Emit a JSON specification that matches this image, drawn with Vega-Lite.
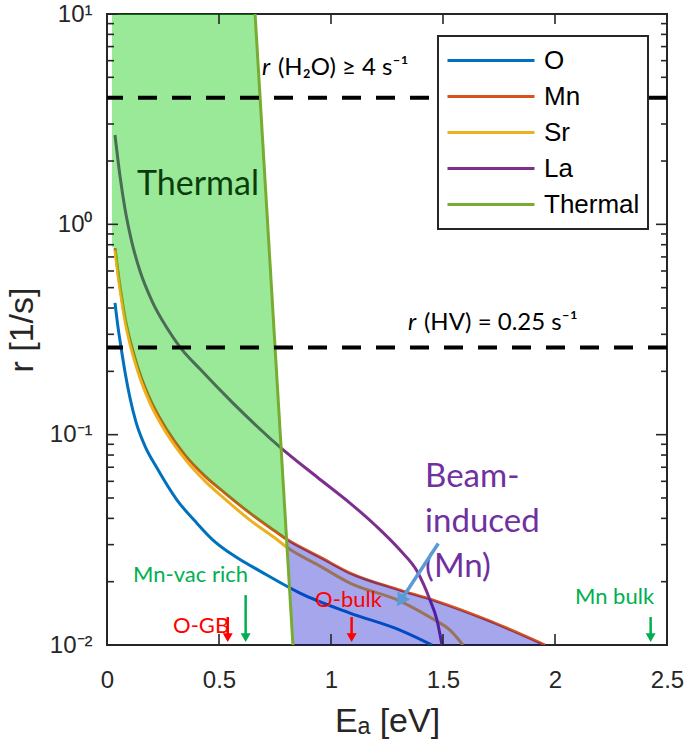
{
  "$schema": "https://vega.github.io/schema/vega-lite/v6.json",
  "width": 560,
  "height": 631,
  "autosize": {"type": "none"},
  "padding": {"left": 107, "top": 14, "right": 18, "bottom": 104},
  "background": "white",
  "config": {
    "view": {"stroke": "#262626", "strokeWidth": 2},
    "axis": {"grid": false, "domain": false, "ticks": false, "labelFont": "Liberation Sans", "titleFont": "Liberation Sans", "labelColor": "#262626", "titleColor": "#262626", "titleFontWeight": "normal", "labelOverlap": false, "labelFlush": false}
  },
  "datasets": {
    "curves": [
      {"series": "O", "E": 0.0357, "r": 0.4234}, {"series": "O", "E": 0.0491, "r": 0.3247}, {"series": "O", "E": 0.0625, "r": 0.2609}, {"series": "O", "E": 0.0804, "r": 0.1984}, {"series": "O", "E": 0.1027, "r": 0.1493}, {"series": "O", "E": 0.1295, "r": 0.1148}, {"series": "O", "E": 0.1696, "r": 0.08826}, {"series": "O", "E": 0.2232, "r": 0.06937}, {"series": "O", "E": 0.3125, "r": 0.04887}, {"series": "O", "E": 0.3929, "r": 0.03882}, {"series": "O", "E": 0.4732, "r": 0.03154}, {"series": "O", "E": 0.5759, "r": 0.02618}, {"series": "O", "E": 0.683, "r": 0.02246}, {"series": "O", "E": 0.8616, "r": 0.01765}, {"series": "O", "E": 1.0848, "r": 0.01418}, {"series": "O", "E": 1.308, "r": 0.01177}, {"series": "O", "E": 1.4509, "r": 0.01},
      {"series": "Mn", "E": 0.0357, "r": 0.771}, {"series": "Mn", "E": 0.0491, "r": 0.593}, {"series": "Mn", "E": 0.0625, "r": 0.4713}, {"series": "Mn", "E": 0.0804, "r": 0.3584}, {"series": "Mn", "E": 0.1027, "r": 0.2818}, {"series": "Mn", "E": 0.125, "r": 0.2313}, {"series": "Mn", "E": 0.1473, "r": 0.1942}, {"series": "Mn", "E": 0.192, "r": 0.1476}, {"series": "Mn", "E": 0.2679, "r": 0.1051}, {"series": "Mn", "E": 0.3482, "r": 0.07998}, {"series": "Mn", "E": 0.4375, "r": 0.06355}, {"series": "Mn", "E": 0.5268, "r": 0.05276}, {"series": "Mn", "E": 0.6384, "r": 0.04238}, {"series": "Mn", "E": 0.75, "r": 0.0348}, {"series": "Mn", "E": 0.808, "r": 0.03153}, {"series": "Mn", "E": 0.9509, "r": 0.02618}, {"series": "Mn", "E": 1.0848, "r": 0.02197}, {"series": "Mn", "E": 1.308, "r": 0.01824}, {"series": "Mn", "E": 1.4554, "r": 0.01635}, {"series": "Mn", "E": 1.7098, "r": 0.01299}, {"series": "Mn", "E": 1.9554, "r": 0.01},
      {"series": "Sr", "E": 0.0357, "r": 0.7546}, {"series": "Sr", "E": 0.0491, "r": 0.5741}, {"series": "Sr", "E": 0.0625, "r": 0.456}, {"series": "Sr", "E": 0.0804, "r": 0.3469}, {"series": "Sr", "E": 0.1027, "r": 0.2697}, {"series": "Sr", "E": 0.125, "r": 0.2214}, {"series": "Sr", "E": 0.1473, "r": 0.1858}, {"series": "Sr", "E": 0.192, "r": 0.1413}, {"series": "Sr", "E": 0.2679, "r": 0.1007}, {"series": "Sr", "E": 0.3482, "r": 0.07656}, {"series": "Sr", "E": 0.4375, "r": 0.06017}, {"series": "Sr", "E": 0.5268, "r": 0.04941}, {"series": "Sr", "E": 0.6384, "r": 0.03926}, {"series": "Sr", "E": 0.75, "r": 0.03224}, {"series": "Sr", "E": 0.808, "r": 0.02889}, {"series": "Sr", "E": 0.9509, "r": 0.02372}, {"series": "Sr", "E": 1.0848, "r": 0.01969}, {"series": "Sr", "E": 1.308, "r": 0.01618}, {"series": "Sr", "E": 1.4554, "r": 0.01328}, {"series": "Sr", "E": 1.5313, "r": 0.01177}, {"series": "Sr", "E": 1.5893, "r": 0.01},
      {"series": "La", "E": 0.0357, "r": 2.658}, {"series": "La", "E": 0.058, "r": 1.697}, {"series": "La", "E": 0.0804, "r": 1.182}, {"series": "La", "E": 0.1098, "r": 0.8329}, {"series": "La", "E": 0.1473, "r": 0.5997}, {"series": "La", "E": 0.2009, "r": 0.4317}, {"series": "La", "E": 0.2679, "r": 0.3213}, {"series": "La", "E": 0.3259, "r": 0.2609}, {"series": "La", "E": 0.4152, "r": 0.205}, {"series": "La", "E": 0.5625, "r": 0.1413}, {"series": "La", "E": 0.7723, "r": 0.0873}, {"series": "La", "E": 0.9375, "r": 0.0629}, {"series": "La", "E": 1.0848, "r": 0.0473}, {"series": "La", "E": 1.1964, "r": 0.0372}, {"series": "La", "E": 1.308, "r": 0.02827}, {"series": "La", "E": 1.3839, "r": 0.02246}, {"series": "La", "E": 1.442, "r": 0.01635}, {"series": "La", "E": 1.4732, "r": 0.01313}, {"series": "La", "E": 1.4955, "r": 0.01},
      {"series": "Thermal", "E": 0.661, "r": 10}, {"series": "Thermal", "E": 0.83, "r": 0.01}
    ],
    "thermalRegion": [
      {"E": 0.022, "lo": 0.78, "hi": 10}, {"E": 0.0357, "lo": 0.771, "hi": 10}, {"E": 0.0491, "lo": 0.593, "hi": 10}, {"E": 0.0625, "lo": 0.4713, "hi": 10}, {"E": 0.0804, "lo": 0.3584, "hi": 10}, {"E": 0.1027, "lo": 0.2818, "hi": 10}, {"E": 0.125, "lo": 0.2313, "hi": 10}, {"E": 0.1473, "lo": 0.1942, "hi": 10}, {"E": 0.192, "lo": 0.1476, "hi": 10}, {"E": 0.2679, "lo": 0.1051, "hi": 10}, {"E": 0.3482, "lo": 0.07998, "hi": 10}, {"E": 0.4375, "lo": 0.06355, "hi": 10}, {"E": 0.5268, "lo": 0.05276, "hi": 10}, {"E": 0.6384, "lo": 0.04238, "hi": 10}, {"E": 0.661, "lo": 0.04074, "hi": 10}, {"E": 0.7, "lo": 0.03802, "hi": 2.03}, {"E": 0.75, "lo": 0.0348, "hi": 0.263}, {"E": 0.78, "lo": 0.03308, "hi": 0.0772}, {"E": 0.8017, "lo": 0.03186, "hi": 0.03186}
    ],
    "beamRegion": [
      {"E": 0.8017, "lo": 0.03186, "hi": 0.03186}, {"E": 0.808, "lo": 0.0246, "hi": 0.03153}, {"E": 0.815, "lo": 0.01847, "hi": 0.03124}, {"E": 0.83, "lo": 0.01, "hi": 0.03064}, {"E": 0.9509, "lo": 0.01, "hi": 0.02618}, {"E": 1.0848, "lo": 0.01, "hi": 0.02197}, {"E": 1.308, "lo": 0.01, "hi": 0.01824}, {"E": 1.4554, "lo": 0.01, "hi": 0.01635}, {"E": 1.7098, "lo": 0.01, "hi": 0.01299}, {"E": 1.9554, "lo": 0.01, "hi": 0.01}
    ],
    "yTicks": [
      {"r": 0.01, "kind": "major"}, {"r": 0.1, "kind": "major"}, {"r": 1, "kind": "major"}, {"r": 10, "kind": "major"},
      {"r": 0.02, "kind": "minor"}, {"r": 0.03, "kind": "minor"}, {"r": 0.04, "kind": "minor"}, {"r": 0.05, "kind": "minor"}, {"r": 0.06, "kind": "minor"}, {"r": 0.07, "kind": "minor"}, {"r": 0.08, "kind": "minor"}, {"r": 0.09, "kind": "minor"},
      {"r": 0.2, "kind": "minor"}, {"r": 0.3, "kind": "minor"}, {"r": 0.4, "kind": "minor"}, {"r": 0.5, "kind": "minor"}, {"r": 0.6, "kind": "minor"}, {"r": 0.7, "kind": "minor"}, {"r": 0.8, "kind": "minor"}, {"r": 0.9, "kind": "minor"},
      {"r": 2, "kind": "minor"}, {"r": 3, "kind": "minor"}, {"r": 4, "kind": "minor"}, {"r": 5, "kind": "minor"}, {"r": 6, "kind": "minor"}, {"r": 7, "kind": "minor"}, {"r": 8, "kind": "minor"}, {"r": 9, "kind": "minor"}
    ],
    "xTicks": [{"E": 0.5}, {"E": 1}, {"E": 1.5}, {"E": 2}],
    "limits": [
      {"limit": "H2O", "r": 4, "rest": "(H₂O) ≥ 4 s⁻¹", "E": 0.692, "Erest": 0.763, "ry": 5.13},
      {"limit": "HV", "r": 0.26, "rest": "(HV) = 0.25 s⁻¹", "E": 1.344, "Erest": 1.415, "ry": 0.314}
    ],
    "sites": [
      {"label": "O-GB", "site": "O", "E": 0.539, "top": 0.01358, "labelE": 0.295, "labelR": 0.0114},
      {"label": "Mn-vac rich", "site": "Mn", "E": 0.619, "top": 0.01727, "labelE": 0.116, "labelR": 0.0199},
      {"label": "O-bulk", "site": "O", "E": 1.092, "top": 0.01358, "labelE": 0.929, "labelR": 0.0151},
      {"label": "Mn bulk", "site": "Mn", "E": 2.427, "top": 0.01358, "labelE": 2.089, "labelR": 0.01563}
    ],
    "beamText": [
      {"line": "Beam-", "E": 1.42, "r": 0.0564},
      {"line": "induced", "E": 1.42, "r": 0.0344},
      {"line": "(Mn)", "E": 1.42, "r": 0.021}
    ],
    "beamArrow": [
      {"E": 1.479, "r": 0.0304, "E2": 1.31, "r2": 0.0162}
    ]
  },
  "layer": [
    {
      "data": {"name": "curves"},
      "transform": [{"filter": "datum.series != 'Thermal'"}],
      "mark": {"type": "line", "strokeWidth": 3, "interpolate": "monotone", "clip": true},
      "encoding": {
        "x": {"field": "E", "type": "quantitative", "scale": {"type": "linear", "domain": [0, 2.5], "nice": false, "zero": false},
              "axis": {"orient": "bottom", "values": [0, 0.5, 1, 1.5, 2, 2.5], "format": "~g", "labelFontSize": 24, "labelPadding": 23, "title": "Eₐ [eV]", "titleFontSize": 34, "titlePadding": 12}},
        "y": {"field": "r", "type": "quantitative", "scale": {"type": "log", "domain": [0.01, 10], "nice": false},
              "axis": {"orient": "left", "values": [0.01, 0.1, 1, 10], "labelFontSize": 24, "labelPadding": 15, "labelExpr": "datum.value >= 5 ? '10¹' : datum.value >= 0.5 ? '10⁰' : datum.value >= 0.05 ? '10⁻¹' : '10⁻²'", "title": "r [1/s]", "titleFontSize": 34, "titlePadding": 10}},
        "color": {"field": "series", "type": "nominal",
                  "scale": {"domain": ["O", "Mn", "Sr", "La", "Thermal"], "range": ["#0072BD", "#D95319", "#EDB120", "#7E2F8E", "#77AC30"]},
                  "legend": {"orient": "none", "legendX": 331, "legendY": 22, "direction": "vertical", "title": null, "symbolType": "stroke", "symbolSize": 7569, "symbolStrokeWidth": 3, "clipHeight": 33, "rowPadding": 3, "padding": 8, "symbolOffset": 0, "labelOffset": 8, "labelFontSize": 26, "labelFont": "Liberation Sans", "labelColor": "#000000", "fillColor": "#ffffff", "strokeColor": "#262626",
                             "encode": {"legend": {"update": {"strokeWidth": {"value": 2}}}}}}
      }
    },
    {
      "data": {"name": "thermalRegion"},
      "mark": {"type": "area", "color": "#00c800", "opacity": 0.4, "clip": true},
      "encoding": {
        "x": {"field": "E", "type": "quantitative"},
        "y": {"field": "lo", "type": "quantitative"},
        "y2": {"field": "hi"}
      }
    },
    {
      "data": {"name": "beamRegion"},
      "mark": {"type": "area", "color": "#0000cc", "opacity": 0.35, "clip": true},
      "encoding": {
        "x": {"field": "E", "type": "quantitative"},
        "y": {"field": "lo", "type": "quantitative"},
        "y2": {"field": "hi"}
      }
    },
    {
      "data": {"name": "curves"},
      "transform": [{"filter": "datum.series == 'Thermal'"}],
      "mark": {"type": "line", "strokeWidth": 3, "clip": true},
      "encoding": {
        "x": {"field": "E", "type": "quantitative"},
        "y": {"field": "r", "type": "quantitative"},
        "color": {"field": "series", "type": "nominal"}
      }
    },
    {
      "data": {"name": "yTicks"},
      "mark": {"type": "tick", "orient": "horizontal", "color": "#262626", "thickness": 1.6, "opacity": 1, "clip": true},
      "encoding": {
        "x": {"datum": 0, "type": "quantitative"},
        "y": {"field": "r", "type": "quantitative"},
        "size": {"condition": {"test": "datum.kind == 'major'", "value": 22}, "value": 14}
      }
    },
    {
      "data": {"name": "yTicks"},
      "mark": {"type": "tick", "orient": "horizontal", "color": "#262626", "thickness": 1.6, "opacity": 1, "clip": true},
      "encoding": {
        "x": {"datum": 2.5, "type": "quantitative"},
        "y": {"field": "r", "type": "quantitative"},
        "size": {"condition": {"test": "datum.kind == 'major'", "value": 22}, "value": 12}
      }
    },
    {
      "data": {"name": "xTicks"},
      "mark": {"type": "tick", "orient": "vertical", "color": "#262626", "thickness": 1.6, "opacity": 1, "clip": true, "size": 22},
      "encoding": {
        "x": {"field": "E", "type": "quantitative"},
        "y": {"datum": 0.01, "type": "quantitative"}
      }
    },
    {
      "data": {"name": "xTicks"},
      "mark": {"type": "tick", "orient": "vertical", "color": "#262626", "thickness": 1.6, "opacity": 1, "clip": true, "size": 20},
      "encoding": {
        "x": {"field": "E", "type": "quantitative"},
        "y": {"datum": 10, "type": "quantitative"}
      }
    },
    {
      "data": {"name": "limits"},
      "mark": {"type": "rule", "color": "#000000", "strokeWidth": 4, "strokeDash": [19, 15]},
      "encoding": {
        "y": {"field": "r", "type": "quantitative"}
      }
    },
    {
      "data": {"name": "limits"},
      "mark": {"type": "text", "font": "Lato", "fontSize": 24, "fontStyle": "italic", "align": "left", "baseline": "alphabetic", "color": "#000000"},
      "encoding": {
        "x": {"field": "E", "type": "quantitative"},
        "y": {"field": "ry", "type": "quantitative"},
        "text": {"value": "r"}
      }
    },
    {
      "data": {"name": "limits"},
      "mark": {"type": "text", "font": "Lato", "fontSize": 24, "align": "left", "baseline": "alphabetic", "color": "#000000"},
      "encoding": {
        "x": {"field": "Erest", "type": "quantitative"},
        "y": {"field": "ry", "type": "quantitative"},
        "text": {"field": "rest"}
      }
    },
    {
      "data": {"values": [{"label": "Thermal", "E": 0.134, "r": 1.378}]},
      "mark": {"type": "text", "font": "Lato", "fontSize": 34, "align": "left", "baseline": "alphabetic", "color": "#0b3d0b"},
      "encoding": {
        "x": {"field": "E", "type": "quantitative"},
        "y": {"field": "r", "type": "quantitative"},
        "text": {"field": "label"}
      }
    },
    {
      "data": {"name": "beamText"},
      "mark": {"type": "text", "font": "Lato", "fontSize": 33, "align": "left", "baseline": "alphabetic", "color": "#7030a0"},
      "encoding": {
        "x": {"field": "E", "type": "quantitative"},
        "y": {"field": "r", "type": "quantitative"},
        "text": {"field": "line"}
      }
    },
    {
      "data": {"name": "sites"},
      "mark": {"type": "text", "font": "Lato", "fontSize": 22, "align": "left", "baseline": "alphabetic"},
      "encoding": {
        "x": {"field": "labelE", "type": "quantitative"},
        "y": {"field": "labelR", "type": "quantitative"},
        "text": {"field": "label"},
        "color": {"condition": {"test": "datum.site == 'O'", "value": "#ff0000"}, "value": "#00b050"}
      }
    },
    {
      "data": {"name": "sites"},
      "mark": {"type": "rule", "strokeWidth": 2.5},
      "encoding": {
        "x": {"field": "E", "type": "quantitative"},
        "y": {"field": "top", "type": "quantitative"},
        "y2": {"datum": 0.0112},
        "color": {"condition": {"test": "datum.site == 'O'", "value": "#ff0000"}, "value": "#00b050"}
      }
    },
    {
      "data": {"name": "sites"},
      "mark": {"type": "point", "shape": "triangle-down", "size": 100, "filled": true, "opacity": 1},
      "encoding": {
        "x": {"field": "E", "type": "quantitative"},
        "y": {"datum": 0.01084, "type": "quantitative"},
        "color": {"condition": {"test": "datum.site == 'O'", "value": "#ff0000"}, "value": "#00b050"}
      }
    },
    {
      "data": {"name": "beamArrow"},
      "mark": {"type": "rule", "strokeWidth": 3.5, "color": "#5b9bd5"},
      "encoding": {
        "x": {"field": "E", "type": "quantitative"},
        "y": {"field": "r", "type": "quantitative"},
        "x2": {"field": "E2"},
        "y2": {"field": "r2"}
      }
    },
    {
      "data": {"name": "beamArrow"},
      "mark": {"type": "point", "shape": "triangle-down", "size": 220, "filled": true, "opacity": 1, "color": "#5b9bd5", "angle": 33},
      "encoding": {
        "x": {"field": "E2", "type": "quantitative"},
        "y": {"field": "r2", "type": "quantitative"}
      }
    }
  ]
}
